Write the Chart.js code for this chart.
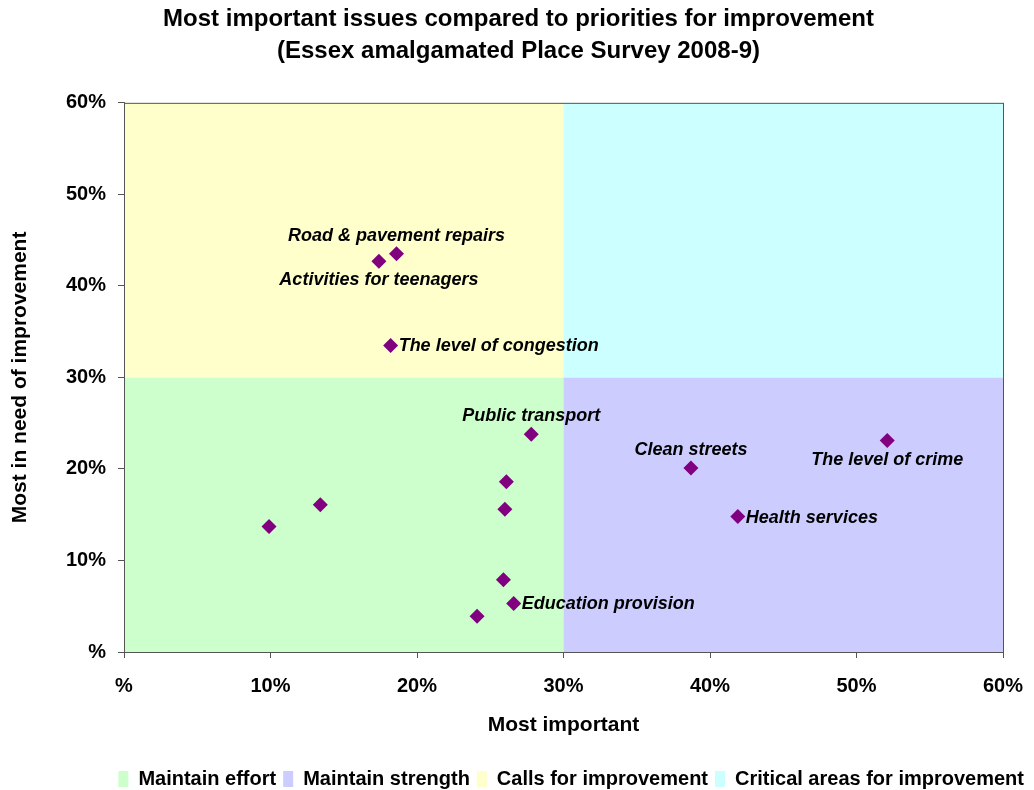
<!DOCTYPE html>
<html>
<head>
<meta charset="utf-8">
<script src="https://cdn.jsdelivr.net/npm/chart.js@4/dist/chart.umd.min.js"></script>
<style>
  html, body { margin: 0; padding: 0; background: #fff; }
  #wrap { width: 1034px; height: 790px; }
</style>
</head>
<body>
<div id="wrap"><canvas id="myChart" width="1034" height="790"></canvas></div>
<script>
// Данные графика
const pointNames = [
  'Road & pavement repairs', 'Activities for teenagers', 'The level of congestion',
  'Public transport', 'Clean streets', 'The level of crime', 'Health services',
  '', '', '', '', '', 'Education provision', ''
];
const mostImportant = [18.6, 17.4, 18.2, 27.8, 38.7, 52.1, 41.9, 26.1, 26.0, 13.4, 9.9, 25.9, 26.6, 24.1];
const needImprovement = [43.5, 42.7, 33.5, 23.8, 20.1, 23.1, 14.8, 18.6, 15.6, 16.1, 13.7, 7.9, 5.3, 3.9];
const labelPlace = ['above', 'below', 'right', 'above', 'above', 'below', 'right',
  '', '', '', '', '', 'right', ''];

const tickLabels = ['%', '10%', '20%', '30%', '40%', '50%', '60%'];
const quadrantNames = ['Maintain effort', 'Maintain strength', 'Calls for improvement', 'Critical areas for improvement'];
const quadrantColors = ['#CCFFCC', '#CCCCFF', '#FFFFCC', '#CCFFFF'];
const split = 30;

const FONT = '"Liberation Sans", Arial, sans-serif';

// Фон по квадрантам
const quadrantPlugin = {
  id: 'quadrants',
  beforeDatasetsDraw(chart) {
    const { ctx, chartArea: a, scales: { x, y } } = chart;
    const mx = x.getPixelForValue(split);
    const my = y.getPixelForValue(split);
    ctx.save();
    ctx.fillStyle = quadrantColors[0]; ctx.fillRect(a.left, my, mx - a.left, a.bottom - my);
    ctx.fillStyle = quadrantColors[1]; ctx.fillRect(mx, my, a.right - mx, a.bottom - my);
    ctx.fillStyle = quadrantColors[2]; ctx.fillRect(a.left, a.top, mx - a.left, my - a.top);
    ctx.fillStyle = quadrantColors[3]; ctx.fillRect(mx, a.top, a.right - mx, my - a.top);
    ctx.strokeStyle = '#555';
    ctx.lineWidth = 1;
    ctx.strokeRect(a.left + 0.5, a.top + 0.5, a.right - a.left, a.bottom - a.top);
    ctx.restore();
  }
};

// Подписи точек
const pointLabelPlugin = {
  id: 'pointLabels',
  afterDatasetsDraw(chart) {
    const ctx = chart.ctx;
    const meta = chart.getDatasetMeta(0);
    ctx.save();
    ctx.font = 'italic bold 18px ' + FONT;
    ctx.fillStyle = '#000';
    pointNames.forEach((name, i) => {
      if (!name) return;
      const p = meta.data[i];
      const place = labelPlace[i];
      if (place === 'above') {
        ctx.textAlign = 'center'; ctx.textBaseline = 'bottom';
        ctx.fillText(name, p.x, p.y - 9);
      } else if (place === 'below') {
        ctx.textAlign = 'center'; ctx.textBaseline = 'top';
        ctx.fillText(name, p.x, p.y + 10);
      } else {
        ctx.textAlign = 'left'; ctx.textBaseline = 'middle';
        ctx.fillText(name, p.x + 8, p.y + 1);
      }
    });
    ctx.restore();
  }
};

const data = {
  datasets: [{
    data: mostImportant.map((v, i) => ({ x: v, y: needImprovement[i] })),
    pointStyle: 'rectRot',
    pointRadius: 7.5,
    pointHoverRadius: 7.5,
    backgroundColor: '#800080',
    borderColor: '#800080',
    borderWidth: 0
  }]
};

const config = {
  type: 'scatter',
  data: data,
  options: {
    responsive: false,
    animation: false,
    layout: { padding: { left: 6, right: 3, top: 3, bottom: -9 } },
    plugins: {
      tooltip: { enabled: false },
      title: {
        display: true,
        text: ['Most important issues compared to priorities for improvement', '(Essex amalgamated Place Survey 2008-9)'],
        color: '#000',
        font: { family: FONT, size: 24, weight: 'bold', lineHeight: 1.33 },
        padding: { top: 0, bottom: 36 }
      },
      legend: {
        position: 'bottom',
        align: 'end',
        onClick: null,
        labels: {
          color: '#000',
          font: { family: FONT, size: 20, weight: 'bold' },
          boxWidth: 10,
          boxHeight: 16,
          padding: 7,
          generateLabels: () => quadrantNames.map((n, i) => ({
            text: n, fillStyle: quadrantColors[i], strokeStyle: quadrantColors[i], lineWidth: 0, hidden: false
          }))
        }
      }
    },
    scales: {
      x: {
        type: 'linear',
        min: 0, max: 60,
        border: { color: '#555' },
        grid: { drawOnChartArea: false, tickLength: 6, color: '#555' },
        ticks: {
          stepSize: 10, color: '#000', padding: 16,
          font: { family: FONT, size: 20, weight: 'bold' },
          callback: (v) => tickLabels[v / 10]
        },
        title: {
          display: true, text: 'Most important', color: '#000',
          font: { family: FONT, size: 21, weight: 'bold' },
          padding: { top: 10, bottom: 24 }
        },
        afterFit: (scale) => { scale.height = 110; scale.paddingRight = 31; }
      },
      y: {
        type: 'linear',
        min: 0, max: 60,
        border: { color: '#555' },
        grid: { drawOnChartArea: false, tickLength: 6, color: '#555' },
        ticks: {
          stepSize: 10, color: '#000', padding: 12,
          font: { family: FONT, size: 20, weight: 'bold' },
          callback: (v) => tickLabels[v / 10]
        },
        title: {
          display: true, text: 'Most in need of improvement', color: '#000',
          font: { family: FONT, size: 21, weight: 'bold' },
          padding: { top: 2, bottom: 10 }
        },
        afterFit: (scale) => { scale.width = 118; }
      }
    }
  },
  plugins: [quadrantPlugin, pointLabelPlugin]
};

const myChart = new Chart(document.getElementById('myChart'), config);
</script>
</body>
</html>
